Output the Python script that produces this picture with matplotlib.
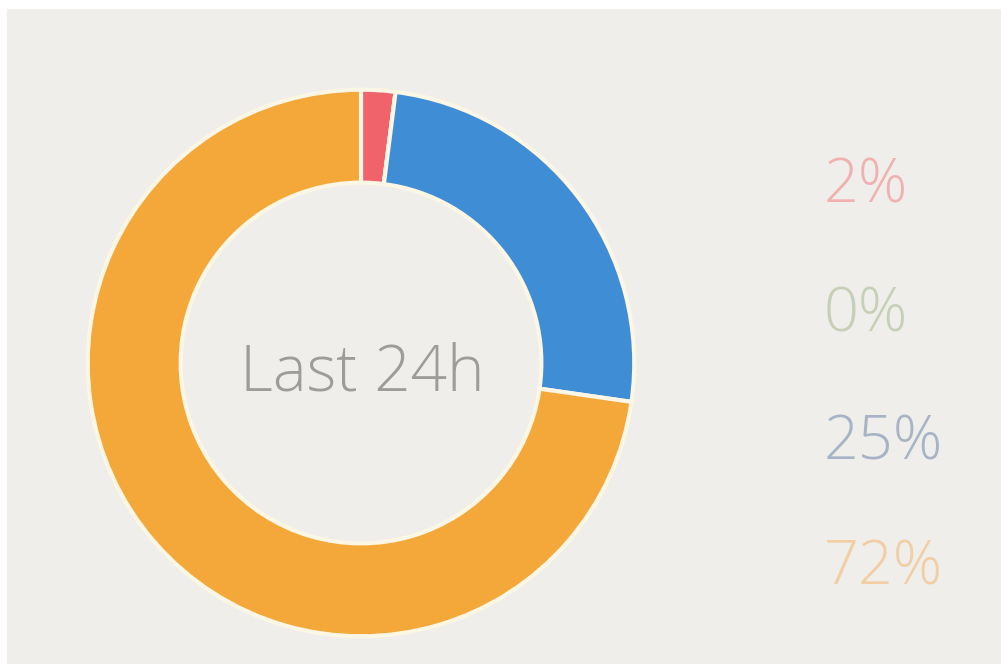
import matplotlib.pyplot as plt

# ---------------------------------- data ---------------------------------- #
labels = ['2%', '0%', '25%', '72%']
shares = [2, 0, 25, 72]
slice_colors = ['#f0636b', '#9bc36b', '#3f8dd5', '#f5a83a']
label_colors = ['#efb2b0', '#c6d0b6', '#a7b4c6', '#f2cea4']
center_text = 'Last 24h'

# ---------------------------------- plot ---------------------------------- #
W, H = 1001, 664
fig = plt.figure(figsize=(W / 100, H / 100), dpi=100, facecolor='white')

# light grey panel behind everything
bg = fig.add_axes([7 / W, 0, 1 - 7 / W, 1 - 9 / H], zorder=-1)
bg.set_facecolor('#efeeea')
bg.set_xticks([])
bg.set_yticks([])
for s in bg.spines.values():
    s.set_visible(False)

cx, cy, r = 361, 363, 276  # donut centre / radius in pixels
ax = fig.add_axes([(cx - r) / W, (H - cy - r) / H, 2 * r / W, 2 * r / H], zorder=1)
ax.pie(shares, colors=slice_colors, startangle=90, counterclock=False,
       radius=1, wedgeprops=dict(width=0.34, edgecolor='#fcf6e4', linewidth=3))
ax.set_xlim(-1.01, 1.01)
ax.set_ylim(-1.01, 1.01)
ax.set_aspect('equal')
ax.axis('off')
ax.text(0.005, -0.04, center_text, ha='center', va='center', fontsize=46,
        color='#9d9c98', family='Open Sans', fontweight='light')

# percentage column on the right
ys = [187, 316, 444, 569]
for lab, col, y in zip(labels, label_colors, ys):
    fig.text(824 / W, 1 - y / H, lab, ha='left', va='center', fontsize=44,
             color=col, family='Open Sans', fontweight='light', zorder=2)

fig.savefig('out.png', dpi=100, facecolor='white')
